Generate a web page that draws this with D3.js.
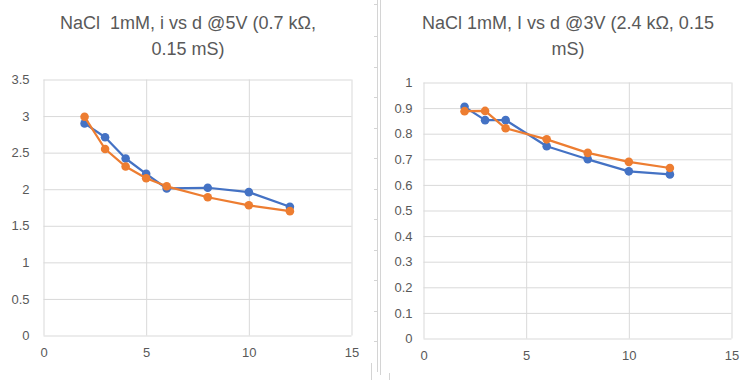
<!DOCTYPE html>
<html><head><meta charset="utf-8">
<script src="https://cdn.jsdelivr.net/npm/d3@7"></script>
<style>body{margin:0;background:#fff}svg{display:block;font-family:"Liberation Sans",Arial,sans-serif}</style>
</head><body>
<svg id="c" width="750" height="380"></svg>
<script>
// Left chart data (i vs d @5V)
const leftX = [2, 3, 4, 5, 6, 8, 10, 12];
const leftBlue = [2.90, 2.71, 2.42, 2.21, 2.01, 2.02, 1.96, 1.76];
const leftOrange = [2.99, 2.55, 2.31, 2.15, 2.04, 1.89, 1.78, 1.70];
const leftYTicks = [0, 0.5, 1, 1.5, 2, 2.5, 3, 3.5];
const leftTitle = ["NaCl  1mM, i vs d @5V (0.7 kΩ,", "0.15 mS)"];

// Right chart data (I vs d @3V)
const rightX = [2, 3, 4, 6, 8, 10, 12];
const rightBlue = [0.905, 0.853, 0.853, 0.751, 0.700, 0.653, 0.641];
const rightOrange = [0.888, 0.889, 0.821, 0.778, 0.725, 0.690, 0.666];
const rightYTicks = [0, 0.1, 0.2, 0.3, 0.4, 0.5, 0.6, 0.7, 0.8, 0.9, 1];
const rightTitle = ["NaCl 1mM, I vs d @3V (2.4 kΩ, 0.15", "mS)"];

const xTicks = [0, 5, 10, 15];

const svg = d3.select("#c");
const BLUE = "#4472C4", ORANGE = "#ED7D31", GRID = "#d9d9d9", TXT = "#595959";

// spreadsheet separator artifacts
const sep = svg.append("g").attr("stroke", "#d4d4d4").attr("stroke-width", 1);
sep.append("line").attr("x1", 377.5).attr("x2", 377.5).attr("y1", 0).attr("y2", 372);
sep.append("line").attr("x1", 380.5).attr("x2", 380.5).attr("y1", 0).attr("y2", 375);
[4, 36, 67, 97, 128, 158, 189, 219, 250, 280, 311, 341].forEach(y =>
  sep.append("line").attr("x1", 374).attr("x2", 377.5).attr("y1", y + 0.5).attr("y2", y + 0.5));
sep.append("line").attr("x1", 371.5).attr("x2", 371.5).attr("y1", 363).attr("y2", 380);
sep.append("line").attr("x1", 389.5).attr("x2", 389.5).attr("y1", 373).attr("y2", 380);

function chart(cfg) {
  const x = d3.scaleLinear().domain([0, 15]).range([cfg.left, cfg.right]);
  const y = d3.scaleLinear().domain([0, cfg.ymax]).range([cfg.bottom, cfg.top]);
  const g = svg.append("g");

  // title
  cfg.title.forEach((t, i) => {
    g.append("text").attr("x", cfg.tx).attr("y", 29 + i * 26)
      .attr("text-anchor", "middle").attr("fill", TXT)
      .style("font-size", "18px").style("white-space", "pre").text(t);
  });

  // gridlines
  const yAxis = d3.axisLeft(y).tickValues(cfg.yticks).tickSize(-(cfg.right - cfg.left)).tickPadding(cfg.ypad)
    .tickFormat(d3.format("~g"));
  const ya = g.append("g").attr("transform", `translate(${cfg.left},0)`).call(yAxis);
  ya.select(".domain").remove();
  ya.selectAll(".tick line").attr("stroke", GRID).attr("stroke-width", 1);
  ya.selectAll(".tick text").attr("fill", TXT).style("font-size", "13px").style("font-family", "inherit");

  const xAxis = d3.axisBottom(x).tickValues(xTicks).tickSize(-(cfg.bottom - cfg.top)).tickPadding(12);
  const xa = g.append("g").attr("transform", `translate(0,${cfg.bottom})`).call(xAxis);
  xa.select(".domain").remove();
  xa.selectAll(".tick line").attr("stroke", GRID).attr("stroke-width", 1);
  xa.selectAll(".tick text").attr("fill", TXT).style("font-size", "13px").style("font-family", "inherit");

  const line = d3.line().x(d => x(d[0])).y(d => y(d[1]));
  cfg.series.forEach(s => {
    const pts = cfg.xs.map((v, i) => [v, s.v[i]]);
    g.append("path").datum(pts).attr("d", line).attr("fill", "none")
      .attr("stroke", s.c).attr("stroke-width", 2.25).attr("stroke-linejoin", "round");
    g.selectAll(null).data(pts).enter().append("circle")
      .attr("cx", d => x(d[0])).attr("cy", d => y(d[1])).attr("r", 4.3).attr("fill", s.c);
  });
}

chart({left: 43.5, right: 351.5, top: 79.5, bottom: 335.5, ymax: 3.5, yticks: leftYTicks,
  xs: leftX, series: [{v: leftBlue, c: BLUE}, {v: leftOrange, c: ORANGE}], title: leftTitle, tx: 188, ypad: 14});
chart({left: 423.5, right: 731.5, top: 82.5, bottom: 338.5, ymax: 1, yticks: rightYTicks,
  xs: rightX, series: [{v: rightBlue, c: BLUE}, {v: rightOrange, c: ORANGE}], title: rightTitle, tx: 568, ypad: 11});
</script>
</body></html>
